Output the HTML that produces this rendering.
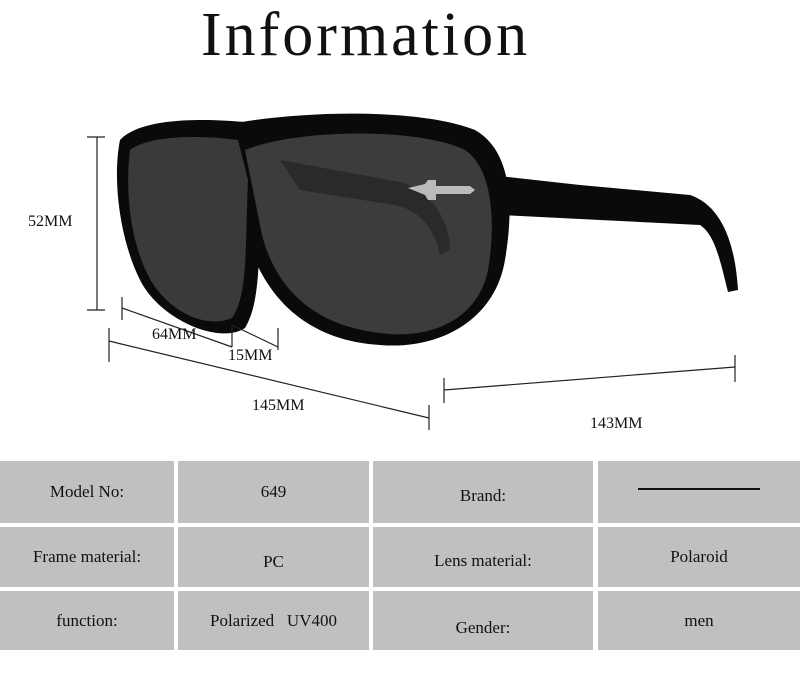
<!DOCTYPE html>
<html><head><style>
body{margin:0;width:800px;height:697px;background:#fff;position:relative;overflow:hidden;font-family:"Liberation Serif",serif;}
.t{position:absolute;font-size:16px;color:#111;}
.c{position:absolute;background:#c0c0c0;display:flex;align-items:center;justify-content:center;font-size:17px;color:#111;}
</style></head><body>
<div class="t" style="left:201px;top:0px;font-size:62px;letter-spacing:3px;">Information</div>
<svg width="800" height="450" style="position:absolute;left:0;top:0">
<g fill="#0a0a0a">
<path d="M120 140 C140 118 200 118 245 122 L262 175 C258 250 262 300 245 328 C220 345 160 320 140 280 C120 240 112 180 120 140Z"/>
<path d="M225 125 C300 110 420 108 475 130 C510 150 515 200 505 260 C495 320 440 350 380 345 C300 340 260 290 245 230 C238 200 232 160 225 125Z"/>
<path d="M490 175 L580 185 L690 195 C720 205 735 240 738 290 L728 292 C720 260 715 235 700 225 L600 220 L500 215Z"/>
</g>
<path d="M130 150 C150 135 200 135 238 140 L248 180 C245 250 248 295 232 318 C205 330 165 310 148 275 C130 240 125 190 130 150Z" fill="#3a3a3c"/>
<path d="M245 150 C300 128 420 128 465 150 C495 170 495 230 488 270 C478 320 430 340 380 333 C310 325 275 285 262 235 C255 200 250 175 245 150Z" fill="#3c3c3e"/>
<path d="M280 160 L400 182 C430 190 450 220 450 250 L440 255 C435 230 420 210 395 205 L300 190Z" fill="#2a2a2c"/>
<path d="M408 188 L425 184 L428 180 L436 180 L436 186 L470 186 L475 190 L470 194 L436 194 L436 200 L428 200 L425 195 Z" fill="#bbb"/>
<g stroke="#222" stroke-width="1.2" fill="none">
<line x1="97" y1="137" x2="97" y2="310"/><line x1="87" y1="137" x2="105" y2="137"/><line x1="87" y1="310" x2="105" y2="310"/>
<line x1="122" y1="308" x2="232" y2="347"/><line x1="232" y1="325" x2="232" y2="347"/>
<line x1="232" y1="325" x2="278" y2="347"/><line x1="122" y1="297" x2="122" y2="320"/><line x1="278" y1="328" x2="278" y2="350"/>
<line x1="109" y1="341" x2="429" y2="418"/><line x1="109" y1="328" x2="109" y2="362"/><line x1="429" y1="405" x2="429" y2="430"/>
<line x1="444" y1="390" x2="735" y2="367"/><line x1="444" y1="378" x2="444" y2="403"/><line x1="735" y1="355" x2="735" y2="382"/>
</g>
</svg>
<div class="t" style="left:28px;top:213px">52MM</div>
<div class="t" style="left:152px;top:326px">64MM</div>
<div class="t" style="left:228px;top:347px">15MM</div>
<div class="t" style="left:252px;top:397px">145MM</div>
<div class="t" style="left:590px;top:415px">143MM</div>
<div class="c" style="left:0;top:461px;width:174px;height:62px">Model No:</div>
<div class="c" style="left:178px;top:461px;width:191px;height:62px">649</div>
<div class="c" style="left:373px;top:461px;width:220px;height:62px;padding-top:8px;box-sizing:border-box">Brand:</div>
<div class="c" style="left:598px;top:461px;width:202px;height:62px"><div style="width:122px;height:2px;background:#111;margin-top:-6px"></div></div>
<div class="c" style="left:0;top:527px;width:174px;height:60px">Frame material:</div>
<div class="c" style="left:178px;top:527px;width:191px;height:60px;padding-top:10px;box-sizing:border-box">PC</div>
<div class="c" style="left:373px;top:527px;width:220px;height:60px;padding-top:8px;box-sizing:border-box">Lens material:</div>
<div class="c" style="left:598px;top:527px;width:202px;height:60px">Polaroid</div>
<div class="c" style="left:0;top:591px;width:174px;height:59px">function:</div>
<div class="c" style="left:178px;top:591px;width:191px;height:59px;white-space:pre">Polarized   UV400</div>
<div class="c" style="left:373px;top:591px;width:220px;height:59px;padding-top:14px;box-sizing:border-box">Gender:</div>
<div class="c" style="left:598px;top:591px;width:202px;height:59px">men</div>
</body></html>
